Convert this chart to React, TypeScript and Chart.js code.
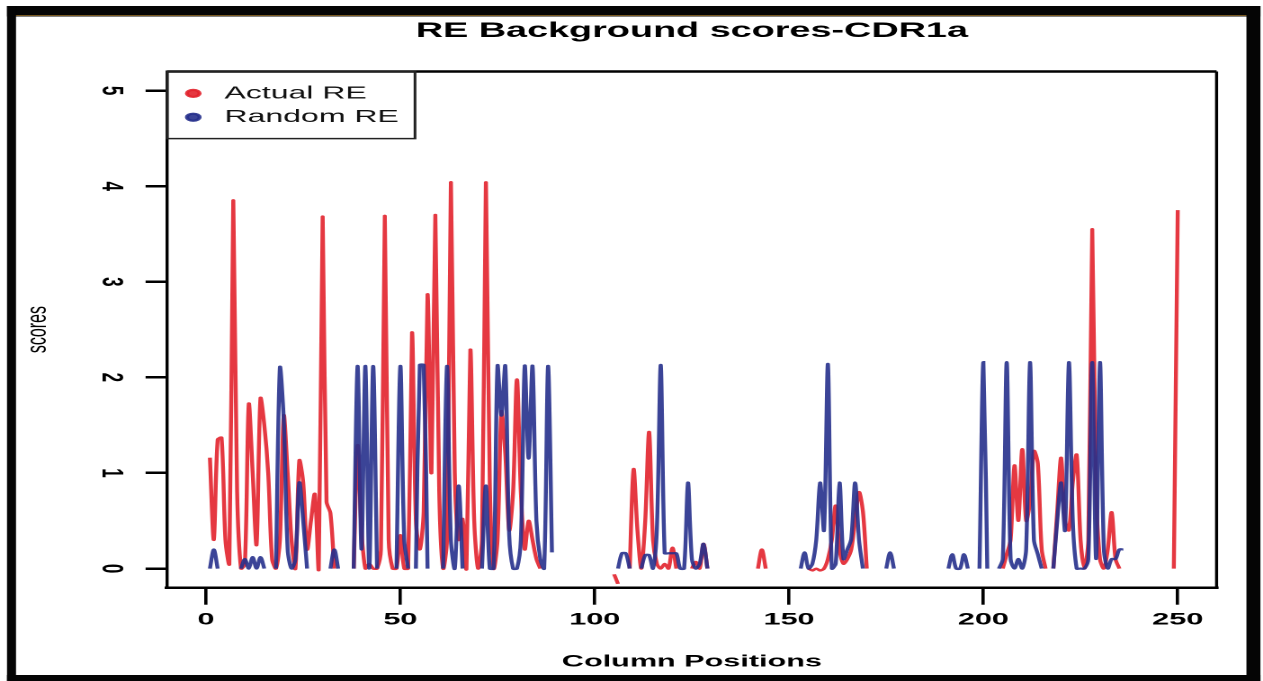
import React, { useEffect, useRef } from 'react';
import { Chart, registerables } from 'chart.js';

Chart.register(...registerables);

// ---- data ----
const chartTitle = 'RE Background scores-CDR1a';
const xAxisTitle = 'Column Positions';
const yAxisTitle = 'scores';
const seriesNames = ['Actual RE', 'Random RE'];
const xTickValues = [0, 50, 100, 150, 200, 250];
const yTickValues = [0, 1, 2, 3, 4, 5];

const actualPositions = [
  1, 2, 3, 4, 5, 6, 7, 8, 9, 10, 11, 12, 13, 14, 15, 16, 17, 18, 19, 20, 21, 22, 23, 24, 25, 26, 27, 28, 29, 30, 31, 32, 33, 34,
  38, 39, 40, 41, 42, 43, 44, 45, 46, 47, 48, 49, 50, 51, 52, 53, 54, 55, 56, 57, 58, 59, 60, 61, 62, 63, 64, 65, 66, 67, 68, 69, 70,
  71, 72, 73, 74, 75, 76, 77, 78, 79, 80, 81, 82, 83, 84, 85, 86, 87,
  105, 106, 107,
  109, 110, 111, 112, 113, 114, 115, 116, 117, 118, 119, 120, 121, 122,
  125, 126, 127, 128, 129, 130,
  142, 143, 144, 145,
  155, 156, 157, 158, 159, 160, 161, 162, 163, 164, 165, 166, 167, 168, 169, 170, 171,
  205, 206, 207, 208, 209, 210, 211, 212, 213, 214, 215, 216, 217,
  218, 219, 220, 221, 222, 223, 224, 225, 226, 227, 228, 229, 230, 231, 232, 233, 234, 235, 236,
  249, 250,
];
const actualScores = [
  1.16, 0.3, 1.35, 1.37, 0.3, 0.05, 3.85, 0.8, 0, 0.05, 1.72, 1.0, 0.25, 1.78, 1.5, 1.0, 0.1, 0, 0.3, 1.6, 1.0, 0.3, 0, 1.13, 0.9, 0.2, 0.5, 0.78, 0, 3.68, 0.7, 0.58, 0, null,
  0, 1.29, 0.4, 0, 0.05, 0, 0, 0.2, 3.69, 0.3, 0, 0, 0.35, 0, 0, 2.47, 0.5, 0.2, 0.6, 2.87, 1.0, 3.7, 0.8, 0, 0.3, 4.04, 1.0, 0.3, 0.52, 0, 2.29, 0.5, 0,
  0.3, 4.04, 0.9, 0, 0.3, 1.64, 1.2, 0.4, 0.8, 1.98, 0.8, 0.2, 0.5, 0.3, 0.1, 0, null,
  -0.06, -0.16, null,
  0, 1.04, 0.4, 0, 0.5, 1.43, 0.3, 0.05, 0, 0.05, 0, 0.22, 0, null,
  0, 0.07, 0, 0.26, 0, null,
  0, 0.2, 0, null,
  0, -0.02, 0, -0.02, 0, 0.1, 0.3, 0.66, 0.2, 0.05, 0.1, 0.2, 0.5, 0.8, 0.6, 0, null,
  0, 0.15, 0.3, 1.08, 0.5, 1.25, 0.5, 0.7, 1.23, 1.1, 0.2, 0, null,
  0, 0.6, 1.16, 0.5, 0.4, 0.9, 1.19, 0.3, 0, 0.3, 3.55, 0.8, 0.1, 0, 0.2, 0.59, 0.1, 0, null,
  0, 3.75,
];

const randomPositions = [
  1, 2, 3, 4,
  9, 10, 11, 12, 13, 14, 15, 16,
  18, 19, 20, 21, 22, 23, 24, 25, 26, 27,
  32, 33, 34, 35,
  38, 39, 40, 41, 42, 43, 44, 45,
  49, 50, 51, 52, 53,
  54, 55, 56, 57, 58,
  61, 62, 63, 64, 65, 66, 67,
  71, 72, 73, 74, 75, 76, 77, 78, 79, 80, 81, 82, 83, 84, 85, 86, 87, 88, 89, 90,
  106, 107, 108, 109, 110,
  112, 113, 114, 115, 116, 117, 118, 119, 120, 121, 122, 123, 124, 125, 126, 127, 128, 129, 130,
  153, 154, 155, 156, 157, 158, 159, 160, 161, 162, 163, 164, 165, 166, 167, 168, 169, 170,
  175, 176, 177, 178,
  191, 192, 193, 194, 195, 196, 197,
  199, 200, 201, 202,
  204, 205, 206, 207, 208, 209, 210, 211, 212, 213, 214, 215, 216,
  218, 219, 220, 221, 222, 223, 224, 225, 226, 227, 228, 229, 230, 231, 232, 233, 234, 235, 236,
];
const randomScores = [
  0, 0.2, 0, null,
  0, 0.1, 0, 0.12, 0, 0.12, 0, null,
  0, 2.1, 1.55, 0.2, 0, 0.1, 0.9, 0.5, 0, null,
  0, 0.2, 0, null,
  0, 2.12, 0.2, 2.12, 0, 2.12, 0, null,
  0, 2.12, 0.3, 0, null,
  0, 2.13, 2.13, 0, null,
  0, 2.12, 0.3, 0, 0.87, 0, null,
  0, 0.87, 0, 0, 2.12, 1.6, 2.12, 0.35, 0, 0, 0.3, 2.12, 1.15, 2.12, 0.5, 0.1, 0, 2.12, 0.17, null,
  0, 0.16, 0.16, 0, null,
  0, 0.14, 0.14, 0, 0.42, 2.13, 0.16, 0.16, 0.16, 0.16, 0, 0, 0.9, 0.1, 0, 0.05, 0.26, 0, null,
  0, 0.17, 0, 0.05, 0.3, 0.9, 0.4, 2.14, 0, 0.05, 0.9, 0.1, 0.2, 0.31, 0.9, 0.3, 0, null,
  0, 0.17, 0, null,
  0, 0.15, 0, 0, 0.15, 0, null,
  0, 2.16, 0, null,
  0, 0.1, 2.16, 0.1, 0, 0.1, 0, 0.2, 2.16, 0.3, 0.15, 0, null,
  0, 0.5, 0.9, 0.4, 2.16, 0.5, 0, 0, 0, 0.1, 2.16, 0.1, 2.16, 0.2, 0, 0.1, 0.1, 0.2, 0.2,
];

// ---- layout (the reference photo is stretched horizontally) ----
const CSS_W = 1263;
const CSS_H = 681;
const STRETCH = 1.8;
const W = Math.round(CSS_W / STRETCH); // internal drawing width
const H = CSS_H;
const FONT = "'Liberation Sans', Arial, Helvetica, sans-serif";
const AREA = { left: 92.9, right: 676.2, top: 71.5, bottom: 587.7 };

const RED = 'rgba(226, 34, 44, 0.9)';
const BLUE = 'rgba(38, 48, 140, 0.9)';

const framePlugin = {
  id: 'photoFrame',
  afterLayout(chart: any) {
    // keep the legend inside the top-left corner of the plot box
    const lg = chart.legend;
    const a = chart.chartArea;
    if (lg) {
      lg.top = a.top;
      lg.bottom = a.top + lg.height;
      lg.left = a.left;
    }
  },
  beforeDraw(chart: any) {
    const ctx = chart.ctx;
    const k = STRETCH;
    ctx.save();
    ctx.fillStyle = '#ffffff';
    ctx.fillRect(0, 0, chart.width, chart.height);
    ctx.fillStyle = '#050505';
    ctx.fillRect(7 / k, 6, (1261 - 7) / k, 10.5); // top band
    ctx.fillRect(7 / k, 6, (16 - 7) / k, H - 6); // left band
    ctx.fillRect(1247 / k, 6, (1261 - 1247) / k, H - 6); // right band
    ctx.fillRect(7 / k, 675, (1261 - 7) / k, 6); // bottom band
    ctx.strokeStyle = 'rgba(150, 110, 40, 0.8)';
    ctx.lineWidth = 1;
    ctx.beginPath();
    ctx.moveTo(16 / k, 15.5);
    ctx.lineTo(1247 / k, 15.5);
    ctx.stroke();
    ctx.restore();
  },
  afterDraw(chart: any) {
    const ctx = chart.ctx;
    const a = chart.chartArea;
    ctx.save();
    ctx.strokeStyle = '#000';
    // top and right sides of the plot box
    ctx.lineWidth = 2.5;
    ctx.beginPath();
    ctx.moveTo(a.left, a.top);
    ctx.lineTo(a.right, a.top);
    ctx.stroke();
    ctx.lineWidth = 1.7;
    ctx.beginPath();
    ctx.moveTo(a.right, a.top);
    ctx.lineTo(a.right, a.bottom);
    ctx.stroke();
    // legend frame
    const lg = chart.legend;
    if (lg && lg.legendHitBoxes && lg.legendHitBoxes.length) {
      let r = 0;
      let b = 0;
      lg.legendHitBoxes.forEach((h: any) => {
        r = Math.max(r, h.left + h.width);
        b = Math.max(b, h.top + h.height);
      });
      ctx.strokeStyle = '#222';
      ctx.lineWidth = 1.5;
      ctx.strokeRect(a.left, a.top, r + 9 - a.left, b + 12.5 - a.top);
    }
    ctx.restore();
  },
};

export default function App() {
  const ref = useRef<HTMLCanvasElement>(null);

  useEffect(() => {
    document.body.style.margin = '0';
    const canvas = ref.current;
    if (!canvas) return;

    const actualData = actualPositions.map((x, i) => ({ x, y: actualScores[i] }));
    const randomData = randomPositions.map((x, i) => ({ x, y: randomScores[i] }));

    const chart = new Chart(canvas, {
      type: 'line',
      data: {
        datasets: [
          {
            label: seriesNames[0],
            data: actualData as any,
            borderColor: RED,
            backgroundColor: RED,
            borderWidth: 2.2,
            pointRadius: 0,
            pointHoverRadius: 0,
            tension: 0.3,
            spanGaps: false,
            fill: false,
            order: 1,
          },
          {
            label: seriesNames[1],
            data: randomData as any,
            borderColor: BLUE,
            backgroundColor: BLUE,
            borderWidth: 2.2,
            pointRadius: 0,
            pointHoverRadius: 0,
            tension: 0.3,
            spanGaps: false,
            fill: false,
            order: 0,
          },
        ],
      },
      options: {
        responsive: false,
        animation: false,
        devicePixelRatio: 2,
        events: [],
        layout: { padding: { left: 0, right: W - AREA.right, top: 0, bottom: 0 } },
        scales: {
          x: {
            type: 'linear',
            min: -10,
            max: 260,
            afterBuildTicks: (s: any) => {
              s.ticks = xTickValues.map((v) => ({ value: v }));
            },
            afterFit: (s: any) => {
              s.height = H - AREA.bottom;
            },
            ticks: {
              autoSkip: false,
              maxRotation: 0,
              minRotation: 0,
              padding: 5,
              color: '#000',
              font: { family: FONT, size: 17, weight: 'bold' },
            },
            grid: {
              display: true,
              drawOnChartArea: false,
              drawTicks: true,
              tickLength: 17,
              color: '#000',
              lineWidth: 1.8,
            },
            border: { display: true, color: '#000', width: 2.5 },
            title: {
              display: true,
              text: xAxisTitle,
              color: '#000',
              font: { family: FONT, size: 17, weight: 'bold' },
              padding: { top: 0, bottom: 9 },
            },
          },
          y: {
            type: 'linear',
            min: -0.2,
            max: 5.2,
            afterBuildTicks: (s: any) => {
              s.ticks = yTickValues.map((v) => ({ value: v }));
            },
            afterFit: (s: any) => {
              s.width = AREA.left;
            },
            ticks: {
              autoSkip: false,
              minRotation: -90,
              maxRotation: -90,
              crossAlign: 'center',
              padding: 14.5,
              color: '#000',
              font: { family: FONT, size: 17, weight: 'bold' },
            },
            grid: {
              display: true,
              drawOnChartArea: false,
              drawTicks: true,
              tickLength: 12,
              color: '#000',
              lineWidth: 2.5,
            },
            border: { display: true, color: '#000', width: 1.7 },
            title: {
              display: true,
              text: yAxisTitle,
              color: '#000',
              font: { family: FONT, size: 16 },
              padding: { top: 11.4, bottom: 0 },
            },
          },
        },
        plugins: {
          title: {
            display: true,
            text: chartTitle,
            fullSize: false,
            color: '#000',
            font: { family: FONT, size: 21, weight: 'bold', lineHeight: 1.2 },
            padding: { top: 18.4, bottom: AREA.top - 18.4 - 25.2 },
          },
          legend: {
            display: true,
            position: 'chartArea',
            align: 'start',
            title: {
              display: true,
              text: '',
              font: { family: FONT, size: 6, lineHeight: 1 },
              padding: { top: 1, bottom: 0 },
            },
            labels: {
              usePointStyle: true,
              pointStyle: 'circle',
              boxWidth: 17,
              boxHeight: 5,
              padding: 6,
              color: '#111',
              font: { family: FONT, size: 17.8 },
              sort: (a: any, b: any) => a.datasetIndex - b.datasetIndex,
            },
          },
          tooltip: { enabled: false },
        },
      } as any,
      plugins: [framePlugin],
    });

    return () => chart.destroy();
  }, []);

  return (
    <canvas
      ref={ref}
      width={W}
      height={H}
      style={{ display: 'block', width: `${CSS_W}px`, height: `${CSS_H}px` }}
    />
  );
}
